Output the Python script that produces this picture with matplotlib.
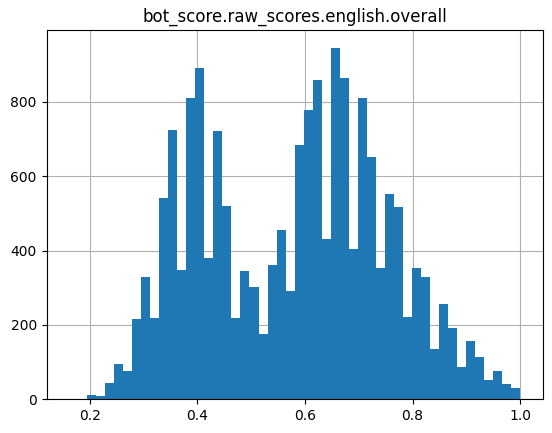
import numpy as np
import matplotlib
matplotlib.use("Agg")
import matplotlib.pyplot as plt

title = "bot_score.raw_scores.english.overall"
data_min = 0.1615
data_max = 1.0
n_bins = 50
counts = [1, 0, 11, 8, 43, 94, 75, 215, 328, 218, 540, 725, 347, 811, 891, 379,
          722, 521, 218, 344, 301, 175, 362, 454, 290, 685, 779, 859, 430, 945,
          864, 405, 811, 652, 352, 553, 518, 221, 354, 328, 134, 255, 193, 86,
          156, 113, 51, 75, 40, 30]

edges = np.linspace(data_min, data_max, n_bins + 1)
centers = (edges[:-1] + edges[1:]) / 2

fig = plt.figure(figsize=(5.52, 4.33), dpi=100)
ax = fig.add_axes([46.5 / 552, (433 - 399.3) / 433, (542.7 - 46.5) / 552, (399.3 - 30.3) / 433])
ax.hist(centers, bins=edges, weights=counts, color="#1f77b4")
ax.grid(True, color="#b0b0b0", linewidth=0.8)
ax.set_axisbelow(True)
ax.set_title(title, fontsize=12)
ax.set_yticks([0, 200, 400, 600, 800])
ax.set_xticks([0.2, 0.4, 0.6, 0.8, 1.0])
fig.savefig("out.png", dpi=100)
